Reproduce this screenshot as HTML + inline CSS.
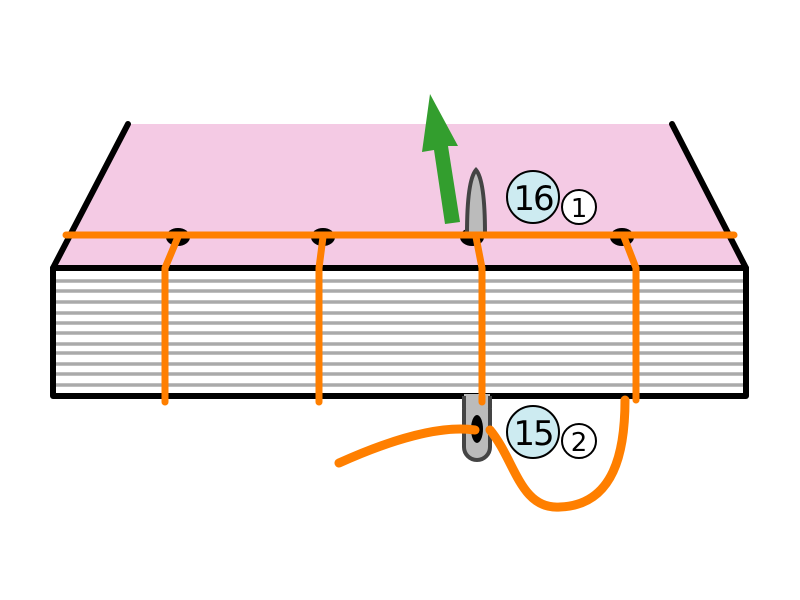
<!DOCTYPE html>
<html><head><style>body{margin:0;background:#fff}svg{display:block}</style></head><body>
<svg width="800" height="600" viewBox="0 0 800 600" xmlns="http://www.w3.org/2000/svg">
<polygon points="128,124 672,124 746,268 53,268" fill="#f4cae4"/>
<rect x="53" y="268" width="693" height="128" fill="#fff"/>
<g stroke="#aaa" stroke-width="3.5">
<line x1="55" y1="281" x2="744" y2="281"/><line x1="55" y1="291" x2="744" y2="291"/>
<line x1="55" y1="302" x2="744" y2="302"/><line x1="55" y1="313" x2="744" y2="313"/>
<line x1="55" y1="323" x2="744" y2="323"/><line x1="55" y1="333" x2="744" y2="333"/>
<line x1="55" y1="344" x2="744" y2="344"/><line x1="55" y1="353" x2="744" y2="353"/>
<line x1="55" y1="364" x2="744" y2="364"/><line x1="55" y1="374" x2="744" y2="374"/>
<line x1="55" y1="385" x2="744" y2="385"/></g>
<rect x="53" y="268" width="693" height="128" fill="none" stroke="#000" stroke-width="6" stroke-linejoin="round"/>
<line x1="53" y1="268" x2="128" y2="124" stroke="#000" stroke-width="6" stroke-linecap="round"/>
<line x1="746" y1="268" x2="672" y2="124" stroke="#000" stroke-width="6" stroke-linecap="round"/>
<g fill="#000"><ellipse cx="178" cy="237" rx="12" ry="9"/><ellipse cx="323" cy="237" rx="12" ry="9"/><ellipse cx="472" cy="237" rx="12" ry="9"/><ellipse cx="622" cy="237" rx="12" ry="9"/></g>
<polygon points="430,94 458,146 448,146 460,222 445,224 434,150 422,152" fill="#339e2e"/>
<path d="M467,234 C467,205 469,178 476,170 C483,178 485,205 485,234 Z" fill="#bbb" stroke="#444" stroke-width="4"/>
<g fill="none" stroke="#ff7f00" stroke-width="7" stroke-linecap="round" stroke-linejoin="round">
<line x1="66" y1="235" x2="734" y2="235"/>
<polyline points="178,237 165,268 165,402"/>
<polyline points="323,237 319,268 319,402"/>
<polyline points="476,237 482,268 482,402"/>
<polyline points="624,237 636,268 636,400"/>
</g>
<rect x="464" y="396" width="26" height="64" rx="13" fill="#bbb" stroke="#444" stroke-width="4"/>
<rect x="464" y="394" width="26" height="14" fill="#bbb"/>
<line x1="464" y1="396" x2="464" y2="408" stroke="#444" stroke-width="4"/>
<line x1="490" y1="396" x2="490" y2="408" stroke="#444" stroke-width="4"/>
<line x1="482" y1="396" x2="482" y2="402" stroke="#ff7f00" stroke-width="7" stroke-linecap="round"/>
<ellipse cx="477" cy="429" rx="6" ry="14" fill="#000"/>
<g fill="none" stroke="#ff7f00" stroke-width="9" stroke-linecap="round">
<path d="M339,463 C390,440 440,425 475,430"/>
<path d="M490,430 C515,460 520,510 560,507 C615,505 625,450 625,400"/>
</g>
<g font-family="DejaVu Sans, sans-serif" text-anchor="middle" font-weight="500">
<circle cx="533" cy="197" r="26" fill="#cdebf1" stroke="#000" stroke-width="2"/>
<text x="533" y="210" font-size="34" letter-spacing="-2">16</text>
<circle cx="579" cy="207" r="17" fill="#fff" stroke="#000" stroke-width="2"/>
<text x="579" y="217" font-size="26">1</text>
<circle cx="533" cy="432" r="26" fill="#cdebf1" stroke="#000" stroke-width="2"/>
<text x="533" y="445" font-size="34" letter-spacing="-2">15</text>
<circle cx="579" cy="441" r="17" fill="#fff" stroke="#000" stroke-width="2"/>
<text x="579" y="451" font-size="26">2</text>
</g>
</svg>
</body></html>
